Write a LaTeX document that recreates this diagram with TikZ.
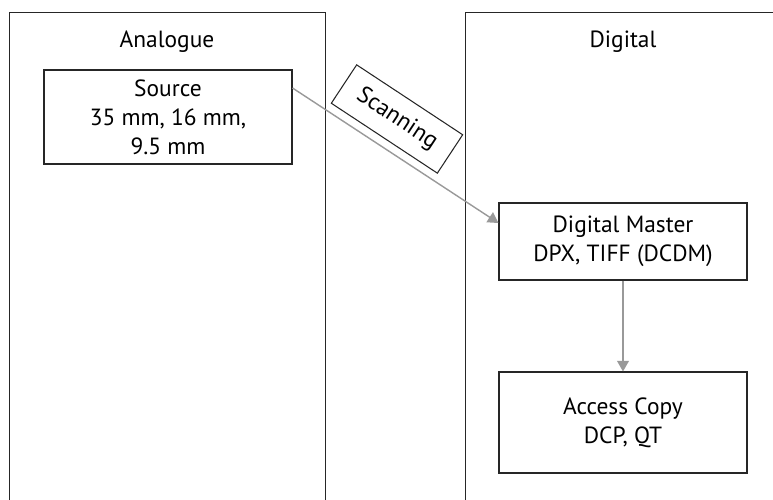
\documentclass[tikz,border=0pt]{standalone}
\usepackage{fontspec}
\setmainfont{PT Sans}
\usepackage{tikz}
\usetikzlibrary{arrows.meta}

\tikzset{
  panel/.style={draw=black!85, line width=0.9pt, anchor=north west,
    minimum width=9.48cm, minimum height=16cm, inner sep=0pt},
  stagebox/.style={draw=black!85, line width=0.9pt, align=center,
    minimum width=7.44cm, inner sep=0pt, font=\fontsize{20}{24.8}\selectfont},
  panellabel/.style={anchor=base, font=\fontsize{20}{24.8}\selectfont},
  flow/.style={draw=black!40, line width=1.2pt,
    -{Triangle[length=9pt,width=10pt]}}
}

\begin{document}
\begin{tikzpicture}[x=0.03cm, y=-0.03cm]
\useasboundingbox (0,0) rectangle (773,500);
\clip (0,0) rectangle (773,500);
% Panels
\node[panel] (analogue) at (9,12) {};
\node[panel] (digital) at (465,12) {};
\node[panellabel] (analoguelabel) at (167,47) {Analogue};
\node[panellabel] (digitallabel) at (623,47) {Digital};
% Stages
\node[stagebox, minimum height=2.82cm] (source) at (168,117) {Source\\35 mm, 16 mm,\\9.5 mm};
\node[stagebox, minimum height=2.31cm] (master) at (623,241.5) {Digital Master\\DPX, TIFF (DCDM)};
\node[stagebox, minimum height=3.03cm] (access) at (623,422.5) {Access Copy\\DCP, QT};
% Arrows
\draw[flow] ([yshift=0.87cm]source.east) -- ([yshift=0.555cm]master.west);
\draw[flow] (master.south) -- (access.north);
\node[stagebox, rotate=-33.4, minimum width=3.81cm, minimum height=1.38cm] (scan) at (397,119) {Scanning};
\end{tikzpicture}
\end{document}
